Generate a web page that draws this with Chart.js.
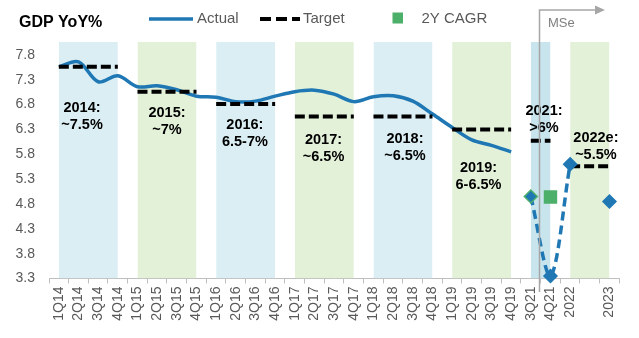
<!DOCTYPE html>
<html>
<head>
<meta charset="utf-8">
<title>GDP YoY%</title>
<script src="https://cdn.jsdelivr.net/npm/chart.js@4.4.1/dist/chart.umd.min.js"></script>
<style>
  html, body { margin: 0; padding: 0; background: #fff; }
  #wrap { width: 639px; height: 338px; }
</style>
</head>
<body>
<div id="wrap"><canvas id="gdpChart" width="639" height="338"></canvas></div>
<script>
// quarters 2014-2019, then 2021 quarters and the forecast years (blank slot before 2023)
const categories = [
  '1Q14', '2Q14', '3Q14', '4Q14', '1Q15', '2Q15', '3Q15', '4Q15',
  '1Q16', '2Q16', '3Q16', '4Q16', '1Q17', '2Q17', '3Q17', '4Q17',
  '1Q18', '2Q18', '3Q18', '4Q18', '1Q19', '2Q19', '3Q19', '4Q19',
  '3Q21', '4Q21', '2022', '', '2023'
];

// reported GDP growth, 1Q14 - 4Q19
const actualGdp = [
  7.56, 7.66, 7.26, 7.38, 7.16, 7.18, 7.10, 6.97,
  6.95, 6.86, 6.87, 6.97, 7.06, 7.09, 7.01, 6.86,
  6.96, 6.98, 6.87, 6.61, 6.34, 6.09, 5.98, 5.85
];

// 3Q21, 4Q21, 2022, (gap), 2023
const forecastGdp = [4.95, 3.35, 5.6, null, 4.85];
const cagr2y = [null, 4.94, null, null, null];

// growth targets and the periods they cover
const targetFrom = ['1Q14', '1Q15', '1Q16', '1Q17', '1Q18', '1Q19', '3Q21', '2022'];
const targetTo = ['4Q14', '4Q15', '4Q16', '4Q17', '4Q18', '4Q19', '4Q21', '2023'];
const targetValues = [7.56, 7.06, 6.81, 6.56, 6.56, 6.30, 6.07, 5.56];
const targetNotes = [
  ['2014:', '~7.5%'], ['2015:', '~7%'], ['2016:', '6.5-7%'], ['2017:', '~6.5%'],
  ['2018:', '~6.5%'], ['2019:', '6-6.5%'], ['2021:', '>6%'], ['2022e:', '~5.5%']
];

const yTicks = [3.3, 3.8, 4.3, 4.8, 5.3, 5.8, 6.3, 6.8, 7.3, 7.8];

const Y_MIN = 3.3;
const Y_MAX = 8.06;
const FONT = '"Liberation Sans", Arial, sans-serif';
const BLUE = '#1f78b4';
const GREEN = '#4caf6a';
const bandFills = ['#daeef3', '#e3f1d9', '#daeef3', '#e3f1d9', '#daeef3', '#e3f1d9', '#c8e4ec', '#e3f1d9'];
// where each year note sits: [category index, value of first line]
const notePos = [[1.18, 6.73], [5.5, 6.63], [9.46, 6.39], [13.46, 6.09], [17.6, 6.10], [21.34, 5.52], [24.67, 6.68], [27.31, 6.12]];

Chart.defaults.font.family = FONT;

const pad = (vals, before, after) => Array(before).fill(null).concat(vals, Array(after).fill(null));
const firstForecast = categories.length - forecastGdp.length;

const datasets = [];

// shaded year columns
targetFrom.forEach((from, i) => {
  datasets.push({
    data: [{ x: from, y: Y_MAX }, { x: targetTo[i], y: Y_MAX }],
    backgroundColor: bandFills[i],
    borderWidth: 0,
    pointRadius: 0,
    fill: 'start',
    tension: 0,
    order: 20
  });
});

datasets.push({
  label: 'Actual',
  data: pad(actualGdp, 0, categories.length - actualGdp.length),
  borderColor: BLUE,
  borderWidth: 3.5,
  pointRadius: 0,
  tension: 0.33,
  fill: false,
  order: 6
});

// target dashes, one per year
targetFrom.forEach((from, i) => {
  datasets.push({
    label: 'Target',
    data: [{ x: from, y: targetValues[i] }, { x: targetTo[i], y: targetValues[i] }],
    borderColor: '#000',
    borderWidth: 4,
    borderDash: [10, 4],
    borderCapStyle: 'butt',
    pointRadius: 0,
    fill: false,
    order: 5
  });
});

datasets.push({
  label: 'Forecast',
  data: pad(forecastGdp, firstForecast, 0),
  borderColor: BLUE,
  borderWidth: 3.5,
  borderDash: [9, 5],
  tension: 0.33,
  pointStyle: 'rectRot',
  pointRadius: 6.5,
  pointBackgroundColor: BLUE,
  // 3Q21 diamond carries a green outline
  pointBorderColor: c => c.dataIndex === firstForecast ? GREEN : BLUE,
  pointBorderWidth: 1.5,
  fill: false,
  clip: false,
  order: 3
});

datasets.push({
  label: '2Y CAGR',
  data: pad(cagr2y, categories.length - cagr2y.length, 0),
  showLine: false,
  pointStyle: 'rect',
  pointRadius: 9.5,
  pointBackgroundColor: GREEN,
  pointBorderWidth: 0,
  order: 2
});

// title, legend, forecast marker and year notes
const overlay = {
  id: 'overlay',
  afterDatasetsDraw(chart) {
    const { ctx, scales: { x, y } } = chart;
    ctx.save();
    ctx.font = 'bold 14.5px ' + FONT;
    ctx.fillStyle = '#000';
    ctx.textAlign = 'center';
    ctx.textBaseline = 'middle';
    targetNotes.forEach((lines, i) => {
      const px = x.getPixelForValue(notePos[i][0]);
      const py = y.getPixelForValue(notePos[i][1]);
      lines.forEach((t, k) => ctx.fillText(t, px, py + k * 17));
    });
    ctx.restore();
  },
  afterDraw(chart) {
    const { ctx, scales: { x } } = chart;
    ctx.save();
    ctx.textBaseline = 'middle';

    ctx.font = 'bold 16px ' + FONT;
    ctx.fillStyle = '#000';
    ctx.fillText('GDP YoY%', 19, 22.5);

    ctx.font = '15px ' + FONT;
    ctx.fillStyle = '#595959';
    ctx.strokeStyle = BLUE;
    ctx.lineWidth = 3.5;
    ctx.beginPath();
    ctx.moveTo(149, 19);
    ctx.lineTo(193, 19);
    ctx.stroke();
    ctx.fillText('Actual', 197, 18.5);

    ctx.strokeStyle = '#000';
    ctx.lineWidth = 4;
    ctx.setLineDash([11, 5]);
    ctx.beginPath();
    ctx.moveTo(260, 19);
    ctx.lineTo(300, 19);
    ctx.stroke();
    ctx.setLineDash([]);
    ctx.fillText('Target', 303, 18.5);

    ctx.fillStyle = GREEN;
    ctx.fillRect(392.5, 12.5, 10.5, 11);
    ctx.fillStyle = '#595959';
    ctx.fillText('2Y CAGR', 421.5, 18.5);

    // forecast marker
    const mx = Math.round(x.getPixelForValue(24.42)) + 0.5;
    ctx.strokeStyle = '#a6a6a6';
    ctx.lineWidth = 1.5;
    ctx.beginPath();
    ctx.moveTo(mx, 292);
    ctx.lineTo(mx, 10);
    ctx.lineTo(596, 10);
    ctx.stroke();
    ctx.fillStyle = '#a6a6a6';
    ctx.beginPath();
    ctx.moveTo(595, 5.5);
    ctx.lineTo(605, 10);
    ctx.lineTo(595, 14.5);
    ctx.closePath();
    ctx.fill();
    ctx.font = '13px ' + FONT;
    ctx.fillStyle = '#7f7f7f';
    ctx.fillText('MSe', 548, 23);
    ctx.restore();
  }
};

const ctx = document.getElementById('gdpChart').getContext('2d');
const gdpChart = new Chart(ctx, {
  type: 'line',
  data: { labels: categories, datasets: datasets },
  options: {
    responsive: false,
    animation: false,
    events: [],
    spanGaps: false,
    layout: { padding: { top: 42, right: 19.7, bottom: 0, left: 0 } },
    plugins: {
      legend: { display: false },
      tooltip: { enabled: false }
    },
    scales: {
      x: {
        type: 'category',
        offset: true,
        grid: { offset: true, drawOnChartArea: false, color: '#bfbfbf', tickLength: 5 },
        border: { color: '#bfbfbf', width: 1 },
        ticks: { autoSkip: false, minRotation: 90, maxRotation: 90, color: '#595959', font: { size: 14 }, padding: 3 },
        afterFit(scale) { scale.height = 59.5; }
      },
      y: {
        min: Y_MIN,
        max: Y_MAX,
        grid: { display: false, drawTicks: false },
        border: { display: false },
        ticks: { color: '#595959', font: { size: 14 }, padding: 14, callback: v => v.toFixed(1) },
        afterBuildTicks(scale) { scale.ticks = yTicks.map(v => ({ value: v })); },
        afterFit(scale) { scale.width = 49; }
      }
    }
  },
  plugins: [overlay]
});
</script>
</body>
</html>
